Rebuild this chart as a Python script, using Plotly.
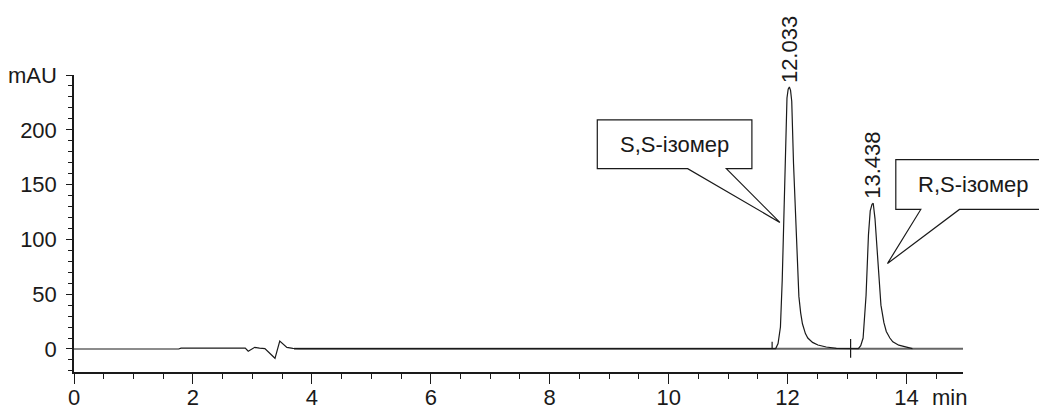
import plotly.graph_objects as go

# ---- data ----
time_min = [0.00, 1.76, 1.80, 2.88, 2.93, 3.04, 3.12, 3.21, 3.38, 3.46, 3.58, 3.68, 3.80,
            11.80, 11.84, 11.88, 11.91, 11.94, 11.96, 11.99, 12.01, 12.03, 12.05, 12.07,
            12.10, 12.15, 12.19, 12.22, 12.25, 12.30, 12.34, 12.42, 12.51, 12.65, 12.82,
            13.19, 13.23, 13.27, 13.32, 13.36, 13.39, 13.42, 13.44, 13.47, 13.52, 13.57,
            13.62, 13.66, 13.72, 13.77, 13.87, 13.97, 14.10]
absorbance_mau = [0.0, 0.0, 0.8, 0.8, -2.0, 1.5, 0.8, 0.3, -8.5, 7.3, 1.5, 0.6, 0.4,
                  0.4, 5, 20, 63, 123, 184, 229, 237, 239, 236, 226,
                  169, 93, 48, 33, 23, 14, 10, 6, 3.6, 1.8, 0.5,
                  0.3, 3, 10, 49, 104, 126, 132, 133, 119, 79, 40,
                  24, 16, 10, 6.6, 3.5, 2, 0.3]
baseline_t = [3.7, 14.95]
baseline_v = [0.3, 0.3]

peak_rt = [12.033, 13.438]
peak_height = [239, 133]
peak_labels = ["12.033", "13.438"]

event_t = [11.74, 13.06]
event_lo = [0.5, -8]
event_hi = [6.6, 9]

y_tickvals = [0, 50, 100, 150, 200, 250]
y_ticktext = ["0", "50", "100", "150", "200", "mAU"]
x_tickvals = [0, 2, 4, 6, 8, 10, 12, 14]

callout_names = ["S,S-ізомер", "R,S-ізомер"]

X_RANGE = [0, 14.95]
Y_RANGE = [-21, 250]
FONT = "Liberation Sans, Arial, sans-serif"
FS = 22
INK = "#1a1a1a"

fig = go.Figure()
fig.add_trace(go.Scatter(x=baseline_t, y=baseline_v, mode="lines",
                         line=dict(color="#666666", width=2), hoverinfo="skip",
                         showlegend=False))
fig.add_trace(go.Scatter(x=time_min, y=absorbance_mau, mode="lines",
                         line=dict(color=INK, width=1.2), showlegend=False))

# event ticks
for t, lo, hi in zip(event_t, event_lo, event_hi):
    fig.add_shape(type="line", xref="x", yref="y", x0=t, x1=t, y0=lo, y1=hi,
                  line=dict(color=INK, width=1.2))

# peak labels
for t, h, lab in zip(peak_rt, peak_height, peak_labels):
    fig.add_annotation(x=t, y=h, xref="x", yref="y", text=lab, showarrow=False,
                       textangle=-90, xanchor="center", yanchor="bottom", yshift=2,
                       font=dict(family=FONT, size=FS, color=INK))

# callouts (defined in data units, converted to paper so they are not clipped)
def px(t):
    return (t - X_RANGE[0]) / (X_RANGE[1] - X_RANGE[0])

def py(v):
    return (v - Y_RANGE[0]) / (Y_RANGE[1] - Y_RANGE[0])

callout_boxes = [  # x0, x1, ytop, ybot, base_a, base_b, tip_t, tip_v
    (8.80, 11.40, 209, 164.5, 10.32, 10.97, 11.87, 115.5),
    (13.82, 16.40, 172.7, 127.3, 14.24, 14.89, 13.68, 78),
]
text_centers = [(10.10, 186.5), (15.13, 150)]
for (x0, x1, yt, yb, ba, bb, tt, tv), name, (cx, cy) in zip(callout_boxes, callout_names, text_centers):
    path = (f"M {px(x0)},{py(yt)} L {px(x1)},{py(yt)} L {px(x1)},{py(yb)} "
            f"L {px(max(ba, bb))},{py(yb)} L {px(tt)},{py(tv)} L {px(min(ba, bb))},{py(yb)} "
            f"L {px(x0)},{py(yb)} Z")
    fig.add_shape(type="path", xref="paper", yref="paper", path=path,
                  fillcolor="white", line=dict(color=INK, width=1.2), layer="above")
    fig.add_annotation(x=px(cx), y=py(cy), xref="paper", yref="paper",
                       text=name, showarrow=False, xanchor="center", yanchor="middle",
                       font=dict(family=FONT, size=FS, color=INK))

fig.add_annotation(x=14.73, y=-0.085, xref="x", yref="paper", text="min",
                   showarrow=False, xanchor="center", yanchor="middle",
                   font=dict(family=FONT, size=FS, color=INK))

fig.update_xaxes(range=X_RANGE, tickmode="array", tickvals=x_tickvals,
                 ticks="outside", ticklen=10, tickwidth=1.2, tickcolor=INK,
                 showline=True, linecolor=INK, linewidth=1.5, showgrid=False,
                 zeroline=False, ticklabelstandoff=-5, automargin=False,
                 tickfont=dict(family=FONT, size=FS, color=INK),
                 minor=dict(tickmode="linear", tick0=0, dtick=0.5, ticks="outside",
                            ticklen=5, tickwidth=1.2, tickcolor=INK, showgrid=False))
fig.update_yaxes(range=Y_RANGE, tickmode="array", tickvals=y_tickvals,
                 ticktext=y_ticktext, ticks="outside", ticklen=6, tickwidth=1.2,
                 tickcolor=INK, showline=True, linecolor=INK, linewidth=1.5,
                 showgrid=False, zeroline=False, ticklabelstandoff=5, automargin=False,
                 tickfont=dict(family=FONT, size=FS, color=INK),
                 minor=dict(tickmode="linear", tick0=0, dtick=10, ticks="outside",
                            ticklen=4, tickwidth=1.2, tickcolor=INK, showgrid=False))

fig.update_layout(width=1039, height=409, autosize=False,
                  margin=dict(l=74, r=76, t=75, b=37),
                  paper_bgcolor="white", plot_bgcolor="white",
                  font=dict(family=FONT, size=FS, color=INK), showlegend=False)

fig.write_html("out.html", config={"displayModeBar": False},
               post_script="document.body.style.margin='0';document.body.style.padding='0';"
                           "document.documentElement.style.overflow='hidden';")
